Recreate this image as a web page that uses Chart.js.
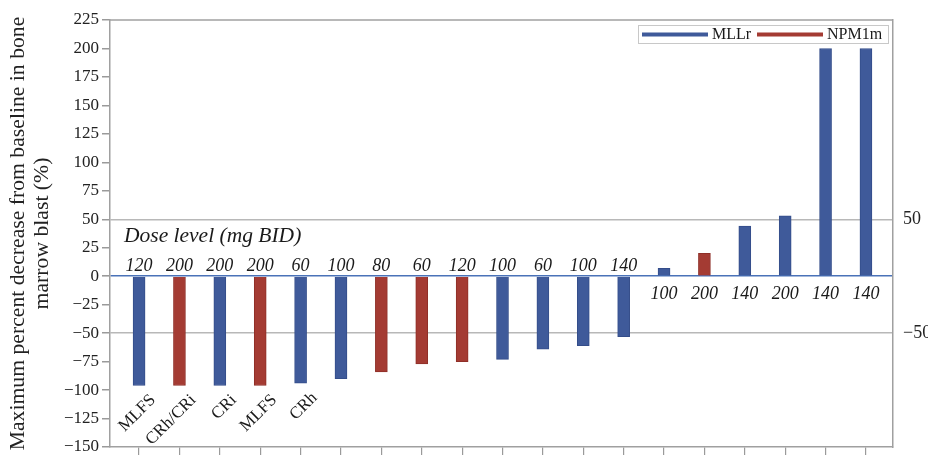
<!DOCTYPE html>
<html><head><meta charset="utf-8">
<script src="https://cdn.jsdelivr.net/npm/chart.js@4"></script>
<style>html,body{margin:0;padding:0;background:#fff}</style>
</head><body>
<canvas id="c" width="928" height="460"></canvas>
<script>
// ---- data ----
const patients = [1,2,3,4,5,6,7,8,9,10,11,12,13,14,15,16,17,18,19];
const doses = [120,200,200,200,60,100,80,60,120,100,60,100,140,100,200,140,200,140,140];
const mllrValues = [-96,null,-96,null,-94,-90,null,null,null,-73,-64,-61,-53,7,null,44,53,200,200];
const npm1mValues = [null,-96,null,-96,null,null,-84,-77,-75,null,null,null,null,null,20,null,null,null,null];
const responses = ['MLFS','CRh/CRi','CRi','MLFS','CRh','','','','','','','','','','','','','',''];
const seriesNames = ['MLLr','NPM1m'];
const yTicksLeft = {min:-150, max:225, step:25};
const yTicksRight = [-50, 50];
const doseTitle = 'Dose level (mg BID)';
const yTitle = ['Maximum percent decrease from baseline in bone','marrow blast (%)'];

// ---- styles ----
const FONT = "'Liberation Serif', 'Times New Roman', serif";
const BLUE = '#3f5a9a', BLUE_B = '#344d8a';
const RED = '#a43b33', RED_B = '#8f2f28';
const minus = v => String(v).replace('-', '\u2212');

const toPts = arr => arr.map((v,i)=> v===null ? null : {x: patients[i], y: v}).filter(p=>p);

const labelPlugin = {
  id: 'labels',
  afterDatasetsDraw(chart) {
    const {ctx, scales:{x, y}, chartArea} = chart;
    const y0 = y.getPixelForValue(0);
    ctx.save();
    // top border
    ctx.strokeStyle = '#a0a0a0'; ctx.lineWidth = 1.5;
    ctx.beginPath(); ctx.moveTo(chartArea.left, chartArea.top); ctx.lineTo(chartArea.right, chartArea.top); ctx.stroke();
    ctx.fillStyle = '#1a1a1a';
    ctx.font = "italic 18px " + FONT;
    ctx.textAlign = 'center'; ctx.textBaseline = 'alphabetic';
    patients.forEach((p,i) => {
      const v = mllrValues[i] !== null ? mllrValues[i] : npm1mValues[i];
      const cx = x.getPixelForValue(p);
      if (v < 0) ctx.fillText(String(doses[i]), cx, y0 - 5);
      else ctx.fillText(String(doses[i]), cx, y0 + 23);
    });
    ctx.textAlign = 'left';
    ctx.font = "italic 21.5px " + FONT;
    ctx.fillText(doseTitle, chartArea.left + 14, y0 - 34);
    // responses
    ctx.font = "17px " + FONT;
    ctx.textAlign = 'right'; ctx.textBaseline = 'middle';
    patients.forEach((p,i) => {
      if (!responses[i]) return;
      const v = mllrValues[i] !== null ? mllrValues[i] : npm1mValues[i];
      const cx = x.getPixelForValue(p);
      const by = y.getPixelForValue(v);
      ctx.save();
      ctx.translate(cx + 14, by + 12);
      ctx.rotate(-Math.PI/4);
      ctx.fillText(responses[i], 0, 0);
      ctx.restore();
    });
    ctx.restore();
  },
  afterDraw(chart) {
    const {ctx} = chart;
    ctx.save();
    ctx.fillStyle = '#fff';
    ctx.fillRect(638.5, 25.5, 250, 18);
    ctx.strokeStyle = '#c8c8c8'; ctx.lineWidth = 1;
    ctx.strokeRect(638.5, 25.5, 250, 18);
    const items = [{t: seriesNames[0], c: BLUE, x: 642}, {t: seriesNames[1], c: RED, x: 757}];
    items.forEach(it => {
      ctx.strokeStyle = it.c; ctx.lineWidth = 4;
      ctx.beginPath(); ctx.moveTo(it.x, 34.5); ctx.lineTo(it.x + 66, 34.5); ctx.stroke();
      ctx.fillStyle = '#1a1a1a';
      ctx.font = "16px " + FONT; ctx.textAlign = 'left'; ctx.textBaseline = 'middle';
      ctx.fillText(it.t, it.x + 70, 35);
    });
    ctx.restore();
  }
};

const noPad = s => { s.paddingTop = 0; s.paddingBottom = 0; };

new Chart(document.getElementById('c'), {
  type: 'bar',
  data: {
    datasets: [
      {label: seriesNames[0], data: toPts(mllrValues), backgroundColor: BLUE, borderColor: BLUE_B, borderWidth: 1, barThickness: 12, grouped: false},
      {label: seriesNames[1], data: toPts(npm1mValues), backgroundColor: RED, borderColor: RED_B, borderWidth: 1, barThickness: 12, grouped: false}
    ]
  },
  options: {
    responsive: false,
    animation: false,
    devicePixelRatio: 1,
    layout: {padding: {top: 20, right: 0, bottom: 0, left: 0}},
    plugins: {legend: {display: false}, tooltip: {enabled: false}},
    scales: {
      x: {
        type: 'linear', min: 0.28, max: 19.67, offset: false,
        ticks: {stepSize: 1, includeBounds: false, callback: () => '', display: true},
        grid: {offset: false, drawOnChartArea: false, drawTicks: true, tickLength: 8, color: '#9a9a9a', lineWidth: 1.2},
        border: {display: true, color: '#a0a0a0', width: 1.5},
        afterFit: s => { s.height = 13; }
      },
      y: {
        position: 'left', min: yTicksLeft.min, max: yTicksLeft.max,
        ticks: {stepSize: yTicksLeft.step, callback: v => minus(v), color: '#222', font: {family: FONT, size: 17}, padding: 3},
        grid: {
          color: c => c.tick && c.tick.value === 0 ? '#4a72b8' : (c.tick && Math.abs(c.tick.value) === 50 ? '#b8b8b8' : 'rgba(0,0,0,0)'),
          lineWidth: c => c.tick && c.tick.value === 0 ? 1.6 : 1.5,
          tickColor: '#9a9a9a', tickLength: 8, drawTicks: true
        },
        border: {display: true, color: '#a0a0a0', width: 1.5},
        title: {display: true, text: yTitle, color: '#222', font: {family: FONT, size: 21.7, lineHeight: 1.1}, padding: {top: 6, bottom: 0}},
        afterFit: s => { s.width = 110; noPad(s); }
      },
      y1: {
        position: 'right', min: yTicksLeft.min, max: yTicksLeft.max,
        afterBuildTicks: s => { s.ticks = yTicksRight.map(v => ({value: v})); },
        ticks: {callback: v => minus(v), color: '#222', font: {family: FONT, size: 18}, padding: 10},
        grid: {drawOnChartArea: false, drawTicks: false},
        border: {display: true, color: '#a0a0a0', width: 1.5},
        afterFit: s => { s.width = 35; noPad(s); }
      }
    }
  },
  plugins: [labelPlugin]
});
</script>
</body></html>
